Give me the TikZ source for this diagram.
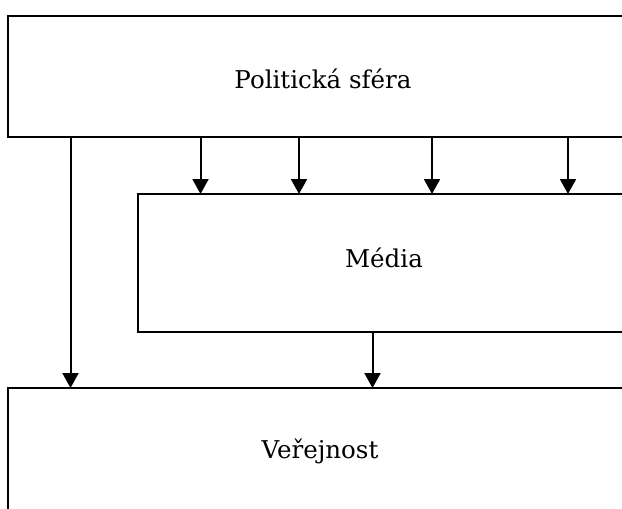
\documentclass[tikz,border=0pt]{standalone}
\usepackage{fontspec}
\setmainfont{DejaVu Serif}
\usetikzlibrary{arrows.meta}
\begin{document}
\begin{tikzpicture}[x=1pt,y=-1pt,
  box/.style={draw=black,line width=1.3pt,rectangle,anchor=north west,inner sep=0pt,outer sep=0pt},
  lbl/.style={anchor=base,inner sep=0pt,font=\fontsize{24.5}{30}\selectfont},
  arr/.style={line width=2pt,-{Triangle[width=16pt,length=15pt]}}]
\useasboundingbox (0,0) rectangle (622,509);
\clip (0,0) rectangle (622,509);
\fill[white] (0,0) rectangle (622,509);
\node[box,minimum width=700pt,minimum height=121pt] (pol) at (8,16) {};
\node[box,minimum width=600pt,minimum height=138pt] (med) at (138,194) {};
\node[box,minimum width=700pt,minimum height=200pt] (ver) at (8,388) {};
\node[lbl] (poltxt) at (323,88) {Politická sféra};
\node[lbl] (medtxt) at (384,267) {Média};
\node[lbl] (vertxt) at (320,458) {Veřejnost};
\coordinate (a0) at (70.5,0);
\coordinate (a1) at (200.5,0);
\coordinate (a2) at (299,0);
\coordinate (a3) at (432,0);
\coordinate (a4) at (568,0);
\coordinate (a5) at (372.5,0);
\draw[arr] (pol.south -| a0) -- (ver.north -| a0);
\draw[arr] (pol.south -| a1) -- (med.north -| a1);
\draw[arr] (pol.south -| a2) -- (med.north -| a2);
\draw[arr] (pol.south -| a3) -- (med.north -| a3);
\draw[arr] (pol.south -| a4) -- (med.north -| a4);
\draw[arr] (med.south -| a5) -- (ver.north -| a5);
\end{tikzpicture}
\end{document}
